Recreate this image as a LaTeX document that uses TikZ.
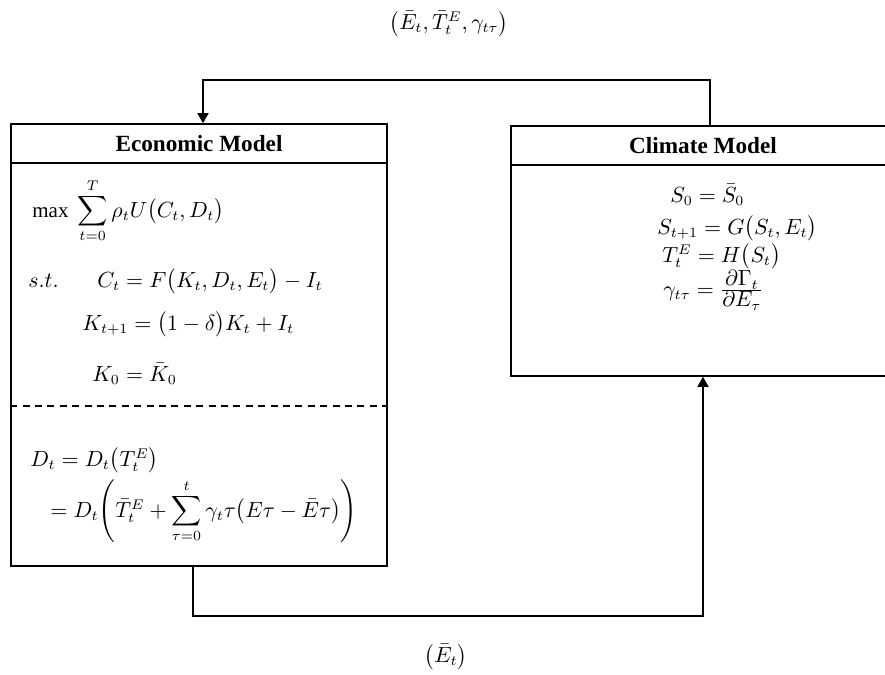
\documentclass[tikz,border=0pt]{standalone}
\usepackage{amsmath,amssymb}
\usepackage{fontspec}
\setmainfont{Liberation Serif}
\usetikzlibrary{arrows.meta, positioning, calc}

\begin{document}
\begin{tikzpicture}[x=0.5pt, y=-0.5pt,
  every node/.style={font=\fontsize{10.5}{13}\selectfont, inner sep=0pt},
  box/.style={draw, line width=0.8pt},
  head/.style={draw, line width=0.8pt, minimum height=19.5pt,
    font=\fontsize{11.6}{14}\selectfont\bfseries},
  eq/.style={anchor=base west},
  flow/.style={line width=0.8pt, -{Triangle[length=5pt,width=5.5pt]}}]
  \useasboundingbox (0,0) rectangle (885,675);
  % Economic model box
  \node[box, minimum width=188pt, minimum height=221pt] (econ) at (199,345) {};
  \node[head, minimum width=188pt, anchor=north] (econhead) at (econ.north) {Economic Model};
  \coordinate (split) at (199,406);
  \draw[line width=0.7pt, dash pattern=on 3.5pt off 2.7pt] (econ.west |- split) -- (econ.east |- split);
  \node[eq] (objective) at (32,217) {$\max\ \displaystyle\sum_{t=0}^{T}\rho_t U\bigl(C_t,D_t\bigr)$};
  \node[eq] (st) at (28,287) {$s.t.$};
  \node[eq] (budget) at (97,287) {$C_t = F\bigl(K_t,D_t,E_t\bigr)-I_t$};
  \node[eq] (capital) at (82,330) {$K_{t+1} = \bigl(1-\delta\bigr)K_t + I_t$};
  \node[eq] (initial) at (92,381) {$K_0 = \bar{K}_0$};
  \node[eq] (damage) at (30,466) {$D_t = D_t\bigl(T_t^E\bigr)$};
  \node[eq] (damagesum) at (50,517) {$= D_t\!\left(\bar{T}_t^E + \displaystyle\sum_{\tau=0}^{t}\gamma_t\tau\bigl(E\tau-\bar{E}\tau\bigr)\right)$};
  % Climate model box
  \node[box, minimum width=192pt, minimum height=125pt] (clim) at (703,251) {};
  \node[head, minimum width=192pt, anchor=north] (climhead) at (clim.north) {Climate Model};
  \node[eq] (stock0) at (670,202) {$S_0 = \bar{S}_0$};
  \node[eq] (stock) at (657,234) {$S_{t+1} = G\bigl(S_t,E_t\bigr)$};
  \node[eq] (temp) at (662,262) {$T_t^E = H\bigl(S_t\bigr)$};
  \node[eq] (sens) at (663,296) {$\gamma_{t\tau} = \tfrac{\displaystyle\partial\Gamma_t}{\displaystyle\partial E_\tau}$};
  % feedback loop
  \coordinate (topbend) at (456,80);
  \coordinate (botbend) at (448,616);
  \draw[flow] ([xshift=3.5pt]clim.north) |- (topbend) -| ([xshift=2pt]econ.north);
  \draw[flow] ([xshift=-3pt]econ.south) |- (botbend) -| (clim.south);
  \node (toplabel) at (449,24) {$\bigl(\bar{E}_t,\bar{T}_t^E,\gamma_{t\tau}\bigr)$};
  \node (botlabel) at (446,657) {$\bigl(\bar{E}_t\bigr)$};
\end{tikzpicture}
\end{document}
